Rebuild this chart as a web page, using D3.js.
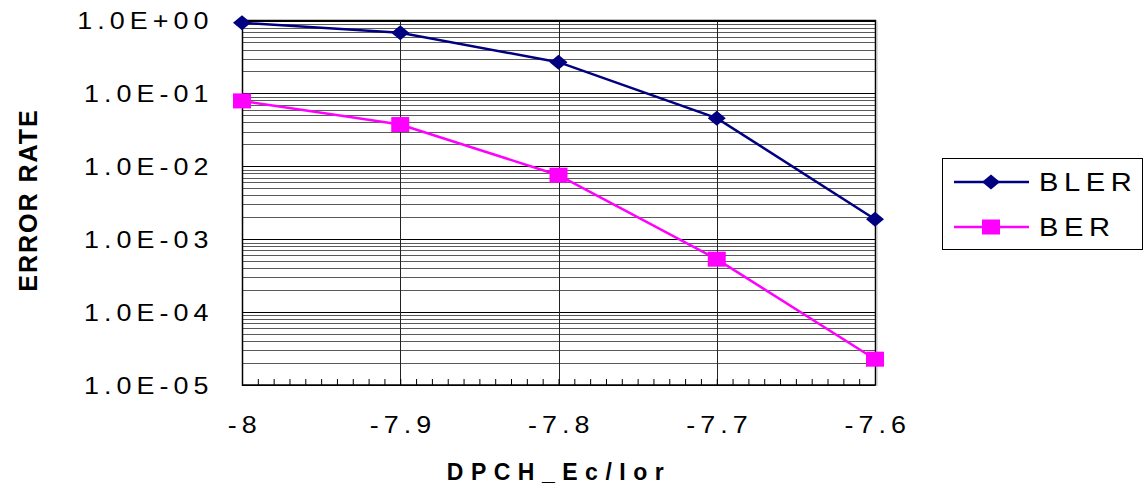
<!DOCTYPE html>
<html><head><meta charset="utf-8">
<script src="https://cdn.jsdelivr.net/npm/d3@7"></script>
<style>body{margin:0;background:#fff} text{font-family:"Liberation Sans",Arial,sans-serif}</style>
</head><body><svg id="c" width="1144" height="494"></svg>
<script>
const xValues = [-8, -7.9, -7.8, -7.7, -7.6];
const blerValues = [0.93, 0.68, 0.268, 0.0457, 0.00188];
const berValues = [0.0789, 0.0374, 0.00755, 0.000532, 0.0000226];
const xTickValues = [-8, -7.9, -7.8, -7.7, -7.6];
const xTickLabels = ["-8", "-7.9", "-7.8", "-7.7", "-7.6"];
const yTickValues = [1e-5, 1e-4, 1e-3, 1e-2, 1e-1, 1];
const yTickLabels = ["1.0E-05", "1.0E-04", "1.0E-03", "1.0E-02", "1.0E-01", "1.0E+00"];
const seriesNames = ["BLER", "BER"];
const seriesColors = ["#000080", "#FF00FF"];

const svg = d3.select("#c");
const L = 242, R = 875, T = 20.5, B = 385;
const x = d3.scaleLinear().domain([-8, -7.6]).range([L, R]);
const y = d3.scaleLog().domain([1e-5, 1]).range([B, T]);

// minor horizontal grid
const minorY = [];
for (let e = -5; e < 0; e++) for (let k = 2; k <= 9; k++) minorY.push(k * Math.pow(10, e));
svg.append("g").selectAll("line").data(minorY).join("line")
  .attr("x1", L).attr("x2", R)
  .attr("y1", d => Math.round(y(d)) + 0.5).attr("y2", d => Math.round(y(d)) + 0.5)
  .attr("stroke", "#5a5a5a").attr("stroke-width", 1);
svg.append("g").selectAll("line").data(yTickValues).join("line")
  .attr("x1", L).attr("x2", R)
  .attr("y1", d => Math.round(y(d)) + 0.5).attr("y2", d => Math.round(y(d)) + 0.5)
  .attr("stroke", "#000").attr("stroke-width", 1);
// vertical grid
svg.append("g").selectAll("line").data(xTickValues.slice(1, -1)).join("line")
  .attr("x1", d => Math.round(x(d)) + 0.5).attr("x2", d => Math.round(x(d)) + 0.5)
  .attr("y1", T).attr("y2", B)
  .attr("stroke", "#222").attr("stroke-width", 1);

// x minor ticks (inside)
const minorX = d3.range(-8, -7.6 + 1e-9, 0.01);
svg.append("g").attr("transform", `translate(0,${B})`)
  .call(d3.axisBottom(x).tickValues(minorX).tickSize(-6).tickFormat(""))
  .call(g => g.select(".domain").remove())
  .call(g => g.selectAll("line").attr("stroke", "#000"));

// x axis labels
const tickFont = 24, ls = 4.5;
const xAxis = svg.append("g").attr("transform", `translate(0,${B})`)
  .call(d3.axisBottom(x).tickValues(xTickValues).tickSize(0).tickPadding(0)
    .tickFormat((d, i) => xTickLabels[i]));
xAxis.select(".domain").remove();
xAxis.selectAll("text").attr("font-size", tickFont).attr("fill", "#000")
  .attr("font-family", "Liberation Sans, Arial, sans-serif")
  .style("letter-spacing", ls + "px")
  .attr("dy", null).attr("y", 0)
  .attr("transform", `translate(${ls / 2},48) scale(1.12,1)`);

// y axis labels
const yAxis = svg.append("g").attr("transform", `translate(${L},0)`)
  .call(d3.axisLeft(y).tickValues(yTickValues).tickSize(0).tickPadding(0)
    .tickFormat((d, i) => yTickLabels[i]));
yAxis.select(".domain").remove();
yAxis.selectAll("text").attr("font-size", tickFont).attr("fill", "#000")
  .attr("font-family", "Liberation Sans, Arial, sans-serif")
  .style("letter-spacing", ls + "px")
  .attr("x", 0).attr("dy", "0.35em")
  .attr("transform", `translate(${-33 + ls},0) scale(1.12,1)`);

// plot border
svg.append("rect").attr("x", L + 0.5).attr("y", T).attr("width", R - L).attr("height", B - T)
  .attr("fill", "none").attr("stroke", "#000").attr("stroke-width", 1.5);
svg.append("line").attr("x1", R + 2).attr("x2", R + 2).attr("y1", T + 1).attr("y2", B + 1)
  .attr("stroke", "#bbb").attr("stroke-width", 1);

// lines
const line = d3.line().x((d, i) => x(xValues[i])).y(d => y(d));
const series = [blerValues, berValues];
series.forEach((vals, si) => {
  svg.append("path").datum(vals).attr("d", line)
    .attr("fill", "none").attr("stroke", seriesColors[si]).attr("stroke-width", 2.5);
});
function marker(g, si, cx, cy) {
  if (si === 0) {
    g.append("path").attr("d", `M${cx - 9},${cy}L${cx},${cy - 7.5}L${cx + 9},${cy}L${cx},${cy + 7.5}Z`)
      .attr("fill", seriesColors[0]);
  } else {
    g.append("rect").attr("x", cx - 9).attr("y", cy - 7.5).attr("width", 18).attr("height", 15)
      .attr("fill", seriesColors[1]);
  }
}
const mg = svg.append("g");
series.forEach((vals, si) => vals.forEach((v, i) => marker(mg, si, x(xValues[i]), y(v))));

// legend
const lg = svg.append("g");
lg.append("rect").attr("x", 942.5).attr("y", 158.5).attr("width", 200).attr("height", 91)
  .attr("fill", "#fff").attr("stroke", "#000").attr("stroke-width", 1);
seriesNames.forEach((n, si) => {
  const cy = 182 + si * 45;
  lg.append("line").attr("x1", 954).attr("x2", 1029).attr("y1", cy).attr("y2", cy)
    .attr("stroke", seriesColors[si]).attr("stroke-width", 2.5);
  marker(lg, si, 991, cy);
  lg.append("text").attr("x", 0).attr("y", 0).attr("dy", "0.35em")
    .attr("transform", `translate(1039,${cy}) scale(1.12,1)`)
    .attr("font-size", 26).style("letter-spacing", "5px").text(n);
});

// axis titles
svg.append("text").attr("transform", "translate(559,480)")
  .attr("text-anchor", "middle").attr("font-size", 23).attr("font-weight", "bold")
  .style("letter-spacing", "7.5px").text("DPCH_Ec/Ior");
svg.append("text").attr("transform", "translate(37,200) rotate(-90)")
  .attr("text-anchor", "middle").attr("font-size", 25).attr("font-weight", "bold")
  .style("letter-spacing", "2px").text("ERROR RATE");
</script></body></html>
